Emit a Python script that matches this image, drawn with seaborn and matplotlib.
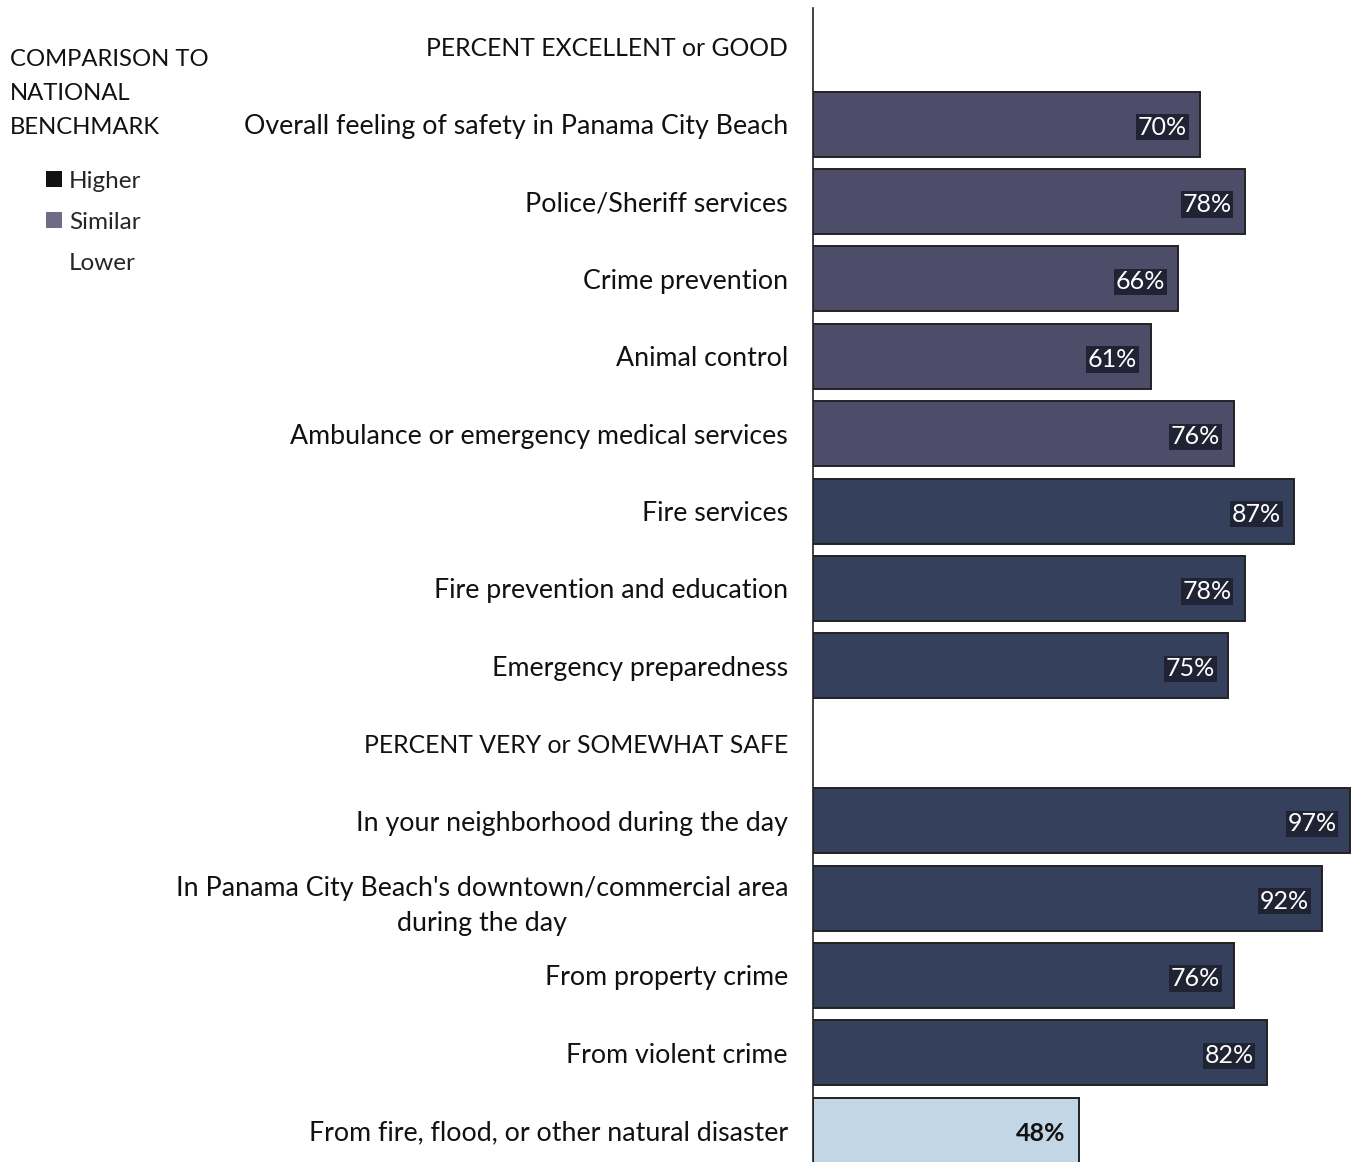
import matplotlib
matplotlib.use("Agg")
import matplotlib.pyplot as plt
from matplotlib.patches import Patch
import seaborn as sns
import pandas as pd

# Row labels, top to bottom (two section headers carry no bar)
rows = [
    "PERCENT EXCELLENT or GOOD",
    "Overall feeling of safety in Panama City Beach",
    "Police/Sheriff services",
    "Crime prevention",
    "Animal control",
    "Ambulance or emergency medical services",
    "Fire services",
    "Fire prevention and education",
    "Emergency preparedness",
    "PERCENT VERY or SOMEWHAT SAFE",
    "In your neighborhood during the day",
    "In Panama City Beach's downtown/commercial area\nduring the day",
    "From property crime",
    "From violent crime",
    "From fire, flood, or other natural disaster",
]
headers = ["PERCENT EXCELLENT or GOOD", "PERCENT VERY or SOMEWHAT SAFE"]

items = [r for r in rows if r not in headers]
values = [70, 78, 66, 61, 76, 87, 78, 75, 97, 92, 76, 82, 48]
benchmark = ["Similar", "Similar", "Similar", "Similar", "Similar",
             "Higher", "Higher", "Higher",
             "Higher", "Higher", "Higher", "Higher", "Lower"]

levels = ["Higher", "Similar", "Lower"]
colors = {"Higher": "#2e3e63", "Similar": "#48486f", "Lower": "#bcd7ec"}

df = pd.DataFrame({"item": items, "value": values, "benchmark": benchmark})

sns.set_theme(style="white")
plt.rcParams["font.family"] = ["Lato", "DejaVu Sans"]

fig = plt.figure(figsize=(13.62, 11.62), dpi=100)
ax = fig.add_axes([813 / 1362, 0.0, (1357 - 813) / 1362, (1162 - 8) / 1162])

sns.barplot(data=df, y="item", x="value", hue="benchmark", order=rows,
            hue_order=levels, palette=colors, dodge=False, orient="h",
            width=0.84, edgecolor="#222222", linewidth=1.4, legend=False, ax=ax)

ax.set_xlim(0, 98.3)
ax.set_ylim(14.41, -0.5)
ax.set_xlabel("")
ax.set_ylabel("")
ax.set_xticks([])
ax.tick_params(axis="y", length=0, pad=18)
ax.set_yticks(range(len(rows)))
ax.set_yticklabels(rows, fontsize=19.3, color="#111111", ha="right")
for lbl in ax.get_yticklabels():
    lbl.set_multialignment("center")
    lbl.set_linespacing(1.5)
    if lbl.get_text() in headers:
        lbl.set_fontsize(17.8)
for side in ["top", "right", "bottom"]:
    ax.spines[side].set_visible(False)
ax.spines["left"].set_color("#222222")
ax.spines["left"].set_linewidth(1.2)

# Value labels near the end of each bar
for item, val, bm in zip(items, values, benchmark):
    y = rows.index(item)
    if bm == "Lower":
        ax.text(val - 2.4, y + 0.04, f"{val}%", ha="right", va="center",
                fontsize=18, fontweight="bold", color="#111111")
    else:
        ax.text(val - 2.4, y + 0.04, f"{val}%", ha="right", va="center",
                fontsize=18, color="white",
                bbox=dict(facecolor="#1f2333", edgecolor="none", pad=1.2))

# Benchmark key in the upper-left corner
fig.text(10 / 1362, 1 - 49 / 1162, "COMPARISON TO\nNATIONAL\nBENCHMARK",
         ha="left", va="top", fontsize=17.2, color="#111111", linespacing=1.75)
handles = [Patch(facecolor="#111111", edgecolor="none"),
           Patch(facecolor="#6f6c86", edgecolor="none"),
           Patch(facecolor="white", edgecolor="none")]
fig.legend(handles, levels, loc="upper left", bbox_to_anchor=(24 / 1362, 1 - 149 / 1162),
           frameon=False, fontsize=17.5, handlelength=0.65, handleheight=0.65,
           handletextpad=0.3, labelspacing=0.82)

fig.savefig("out.png", dpi=100, facecolor="white")
